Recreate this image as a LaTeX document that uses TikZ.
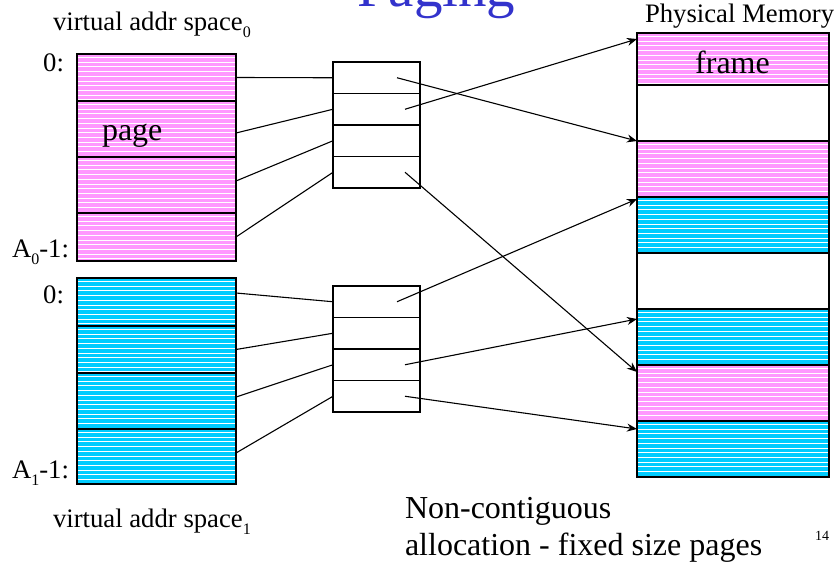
\documentclass[tikz,border=0pt]{standalone}
\usepackage{fontspec}
\setmainfont{Liberation Serif}
\usetikzlibrary{arrows.meta,calc}

\definecolor{pagepink}{RGB}{255,153,255}
\definecolor{pageblue}{RGB}{0,204,255}
\definecolor{titleblue}{RGB}{51,51,204}

% small lowered index used in the address-space labels
\newcommand{\lowidx}[1]{\raisebox{-0.27em}{\fontsize{16}{16}\selectfont #1}}

\begin{document}
\begin{tikzpicture}[x=1pt,y=-1pt,
  every node/.style={inner sep=0pt, outer sep=0pt},
  stripes/.style={path picture={
      \foreach \k in {0,...,12}{
        \draw[white, line width=1pt]
          ([yshift={-3.5pt-\k*4.7pt}]path picture bounding box.north west) --
          ([yshift={-3.5pt-\k*4.7pt}]path picture bounding box.north east);
      }}},
  vpage/.style={rectangle, draw=black, line width=1.2pt, minimum width=159pt, stripes},
  frm/.style={rectangle, draw=black, line width=1.2pt, minimum width=192pt},
  ptrow/.style={rectangle, draw=black, line width=1.3pt, minimum width=87pt, minimum height=31.5pt},
  link/.style={line width=1.1pt},
  ptr/.style={line width=1.1pt, -{Stealth[length=10pt,width=8pt]}},
  lbl/.style={font=\fontsize{26.7}{30}\selectfont},
  big/.style={font=\fontsize{32}{36}\selectfont}
]
\useasboundingbox (0,0) rectangle (836,565);

% title
\node[anchor=base west, text=titleblue, font=\fontsize{57}{60}\selectfont] (title) at (357,6) {Paging};

% virtual address space 0
\node[vpage, fill=pagepink, minimum height=47pt] (a0) at (156.5,77.5) {};
\node[vpage, fill=pagepink, minimum height=56pt] (a1) at (156.5,129) {};
\node[vpage, fill=pagepink, minimum height=56pt] (a2) at (156.5,185) {};
\node[vpage, fill=pagepink, minimum height=48pt] (a3) at (156.5,237) {};

% virtual address space 1
\node[vpage, fill=pageblue, minimum height=48pt] (b0) at (156.5,302) {};
\node[vpage, fill=pageblue, minimum height=47pt] (b1) at (156.5,349.5) {};
\node[vpage, fill=pageblue, minimum height=56pt] (b2) at (156.5,401) {};
\node[vpage, fill=pageblue, minimum height=55pt] (b3) at (156.5,456.5) {};

% labels of the address spaces
\node[lbl, anchor=base west] (vas0) at (53,30) {virtual addr space\lowidx{0}};
\node[lbl, anchor=base west] (vas1) at (53,527) {virtual addr space\lowidx{1}};
\node[lbl, anchor=base east] (z0) at (64,71) {0:};
\node[lbl, anchor=base east] (e0) at (69,257) {A\lowidx{0}-1:};
\node[lbl, anchor=base east] (z1) at (64,303) {0:};
\node[lbl, anchor=base east] (e1) at (69,478) {A\lowidx{1}-1:};
\node[big, anchor=base west] (pagelbl) at (102,140) {page};

% page tables
\node[ptrow] (t00) at (376.5,77.75) {};
\node[ptrow] (t01) at (376.5,109.25) {};
\node[ptrow] (t02) at (376.5,140.75) {};
\node[ptrow] (t03) at (376.5,172.25) {};
\node[ptrow] (t10) at (376.5,301.75) {};
\node[ptrow] (t11) at (376.5,333.25) {};
\node[ptrow] (t12) at (376.5,364.75) {};
\node[ptrow] (t13) at (376.5,396.25) {};

% physical memory frames
\node[frm, fill=pagepink, stripes, minimum height=52pt] (f0) at (733,59) {};
\node[frm, minimum height=56pt] (f1) at (733,113) {};
\node[frm, fill=pagepink, stripes, minimum height=56pt] (f2) at (733,169) {};
\node[frm, fill=pageblue, stripes, minimum height=56pt] (f3) at (733,225) {};
\node[frm, minimum height=56pt] (f4) at (733,281) {};
\node[frm, fill=pageblue, stripes, minimum height=56pt] (f5) at (733,337) {};
\node[frm, fill=pagepink, stripes, minimum height=56pt] (f6) at (733,393) {};
\node[frm, fill=pageblue, stripes, minimum height=56pt] (f7) at (733,449) {};
\node[lbl, anchor=base west] (pm) at (645,22) {Physical Memory};
\node[big, anchor=base] (framelbl) at (732.5,73) {frame};

% pages to page-table entries
\draw[link] (a0.east) -- (t00.west);
\draw[link] ($(a1.east)+(0,4)$) -- (t01.west);
\draw[link] ($(a2.east)+(0,-4)$) -- (t02.west);
\draw[link] (a3.east) -- (t03.west);
\draw[link] ($(b0.east)+(0,-9)$) -- (t10.west);
\draw[link] (b1.east) -- (t11.west);
\draw[link] ($(b2.east)+(0,-4)$) -- (t12.west);
\draw[link] ($(b3.east)+(0,-3.5)$) -- (t13.west);

% page-table entries to frames
\draw[ptr] ($(t00.center)+(20.5,0)$) -- (f2.north west);
\draw[ptr] ($(t01.center)+(28.5,0)$) -- ($(f0.north west)+(0,6)$);
\draw[ptr] ($(t03.center)+(28.5,0)$) -- ($(f6.north west)+(0,7)$);
\draw[ptr] ($(t10.center)+(20.5,0)$) -- ($(f3.north west)+(0,2)$);
\draw[ptr] ($(t12.center)+(28.5,0)$) -- ($(f5.north west)+(0,10)$);
\draw[ptr] ($(t13.center)+(28.5,0)$) -- ($(f7.north west)+(0,8)$);

% caption and slide number
\node[big, anchor=base west] (cap1) at (405,518) {Non-contiguous};
\node[big, anchor=base west] (cap2) at (405,555) {allocation - fixed size pages};
\node[anchor=base west, font=\fontsize{14}{16}\selectfont] (num) at (815,540) {14};
\end{tikzpicture}
\end{document}
